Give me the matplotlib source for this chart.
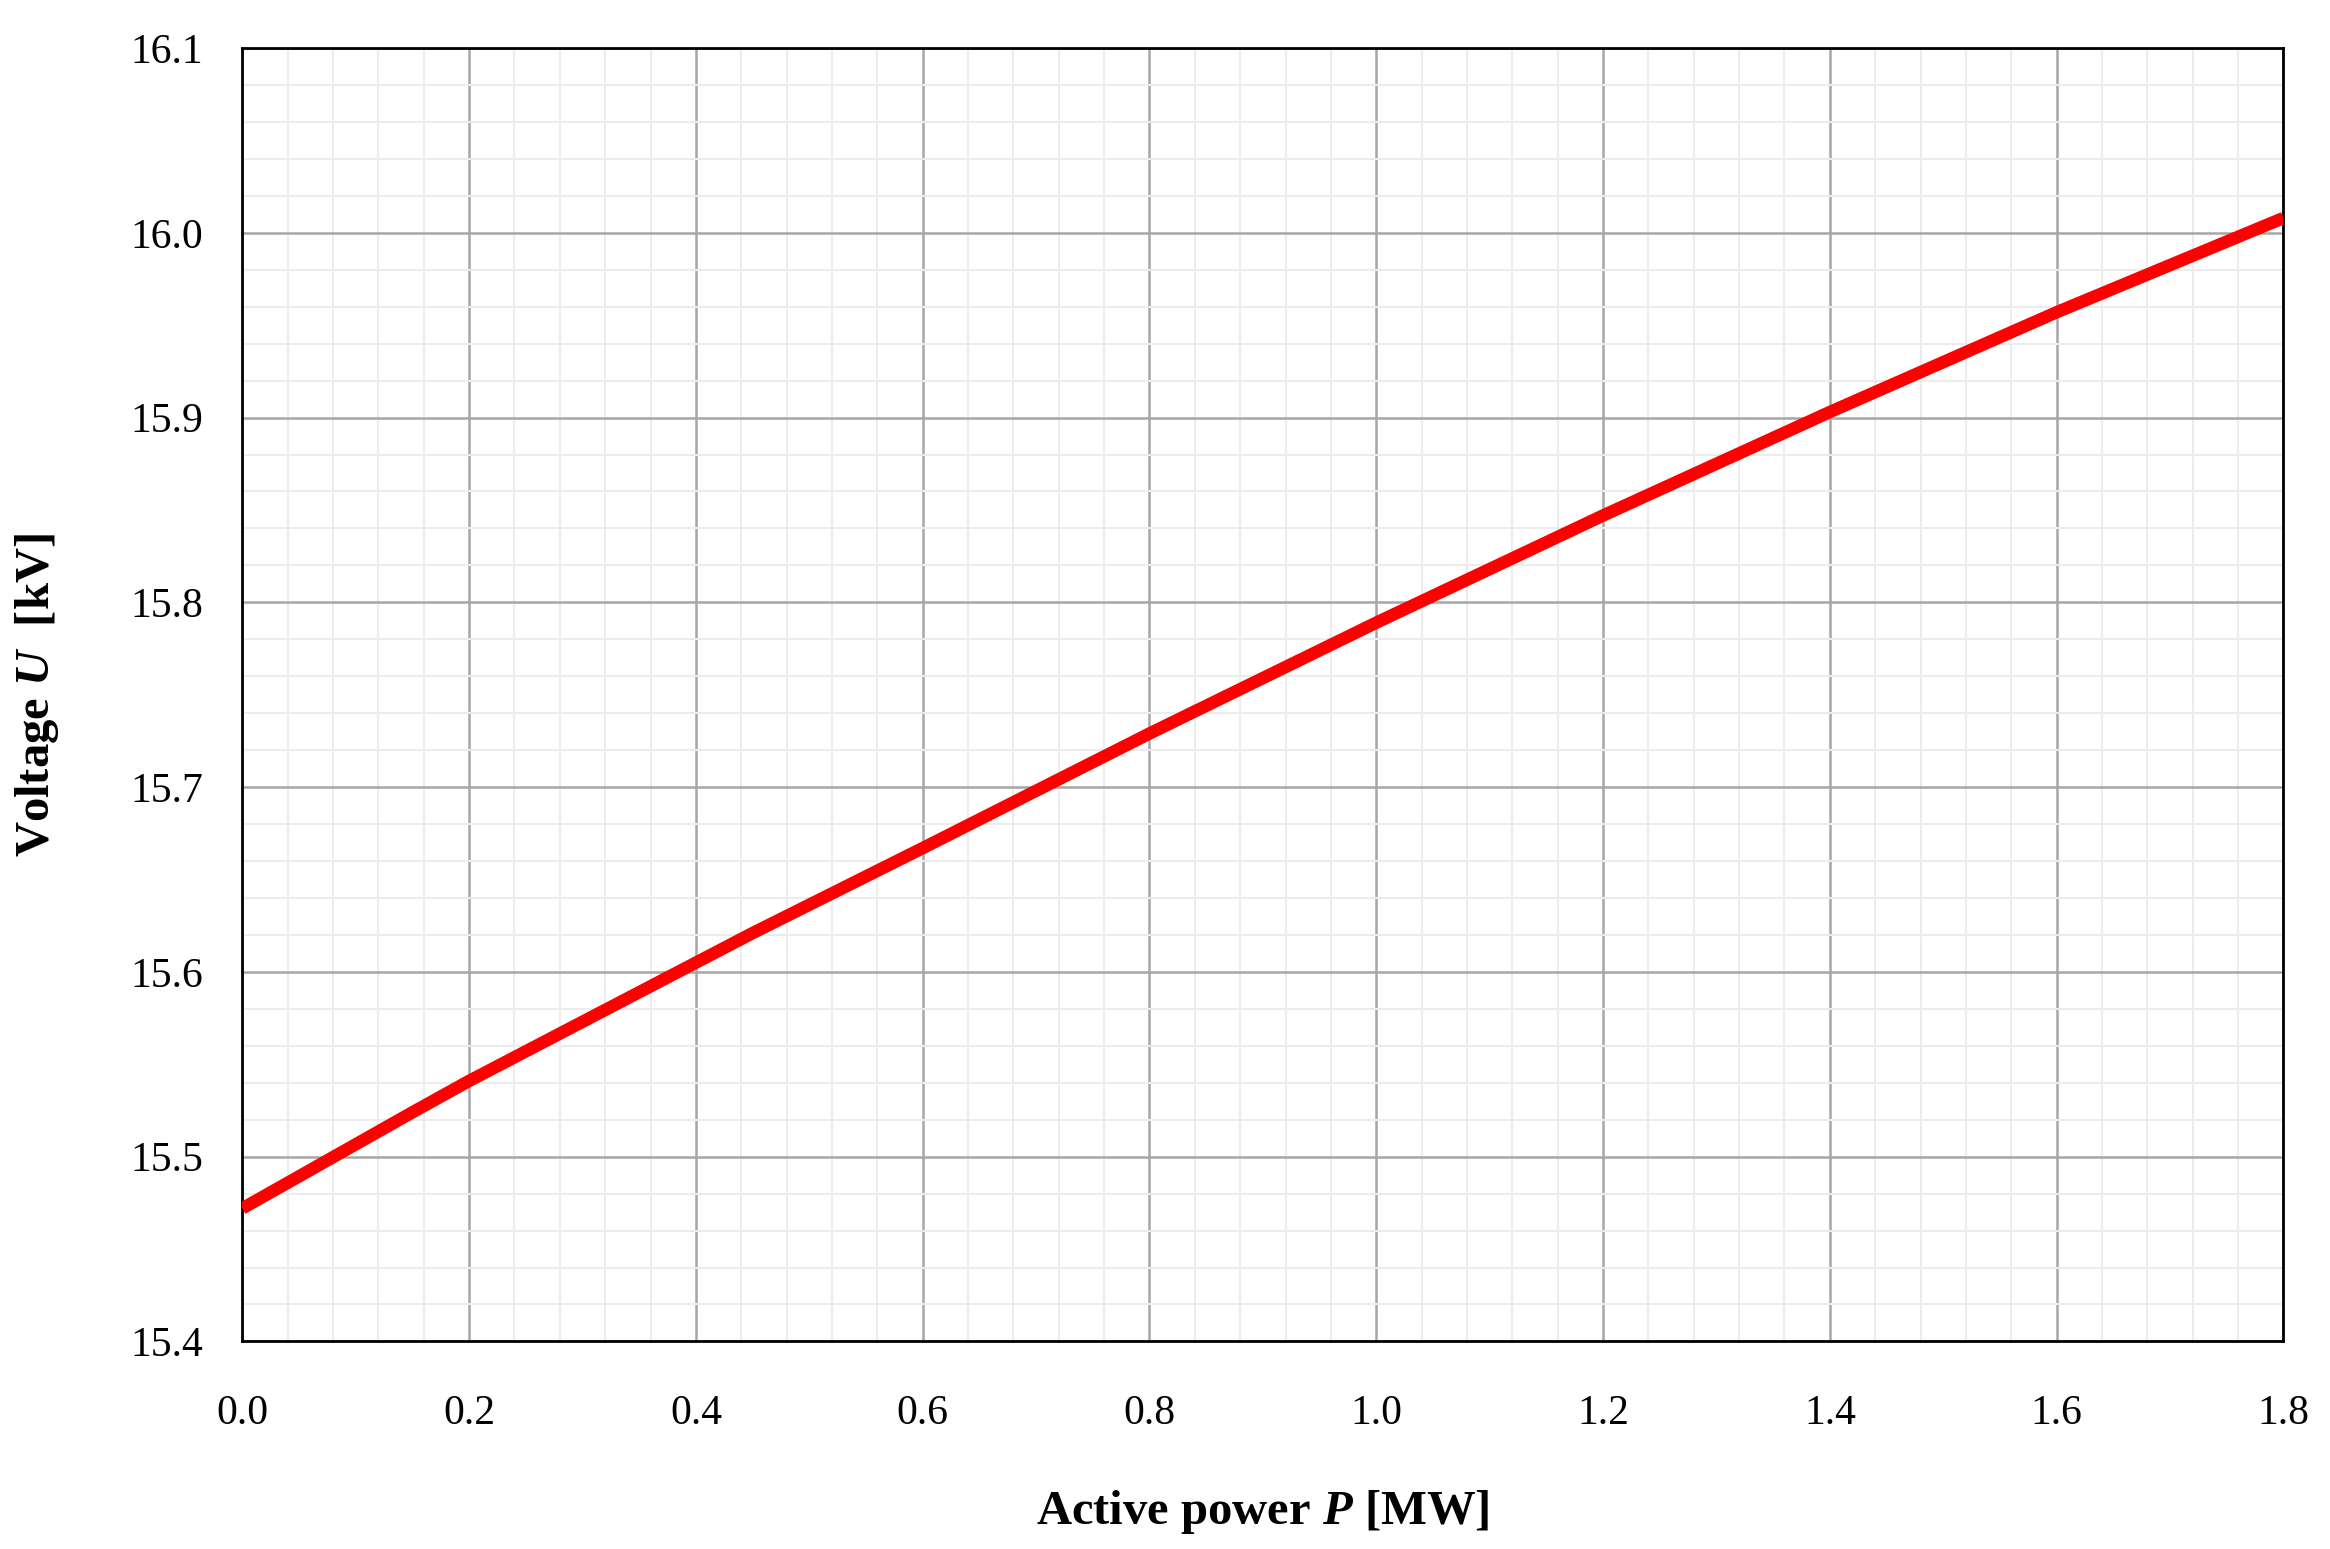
import matplotlib
matplotlib.use("Agg")
import matplotlib.pyplot as plt
from matplotlib.ticker import MultipleLocator, AutoMinorLocator, FormatStrFormatter

power = [0.0, 0.15, 0.2, 0.4, 0.45, 0.6, 0.8, 1.0, 1.2, 1.4, 1.6, 1.8]
voltage = [15.472, 15.524, 15.541, 15.605, 15.621, 15.667, 15.729, 15.789, 15.847, 15.903, 15.957, 16.008]

plt.rcParams['font.family'] = ['Liberation Serif', 'DejaVu Serif']
plt.rcParams['mathtext.fontset'] = 'custom'
plt.rcParams['mathtext.rm'] = 'Liberation Serif'
plt.rcParams['mathtext.it'] = 'Liberation Serif:italic'
plt.rcParams['mathtext.bf'] = 'Liberation Serif:italic:bold'

fig = plt.figure(figsize=(23.3, 15.49), dpi=100)
ax = fig.add_axes([0.104, 0.134, 0.876, 0.835])
ax.plot(power, voltage, color='#ff0000', lw=9, solid_capstyle='butt', solid_joinstyle='round', zorder=3)
ax.set_xlim(0, 1.8)
ax.set_ylim(15.4, 16.1)
ax.xaxis.set_major_locator(MultipleLocator(0.2))
ax.yaxis.set_major_locator(MultipleLocator(0.1))
ax.xaxis.set_minor_locator(AutoMinorLocator(5))
ax.yaxis.set_minor_locator(AutoMinorLocator(5))
ax.xaxis.set_major_formatter(FormatStrFormatter('%.1f'))
ax.yaxis.set_major_formatter(FormatStrFormatter('%.1f'))
ax.grid(which='major', color='#a6a6a6', lw=1.8)
ax.grid(which='minor', color='#ececec', lw=1.5)
ax.tick_params(which='both', length=0, labelsize=30)
ax.tick_params(axis='x', pad=38)
ax.tick_params(axis='y', pad=28)
for s in ax.spines.values():
    s.set_linewidth(2)
    s.set_color('black')
ax.set_xlabel('Active power $\\mathbf{P}$ [MW]', fontsize=35, fontweight='bold', labelpad=40)
ax.set_ylabel('Voltage $\\mathbf{U}$  [kV]', fontsize=35, fontweight='bold', labelpad=50)
fig.savefig('out.png', dpi=100)
